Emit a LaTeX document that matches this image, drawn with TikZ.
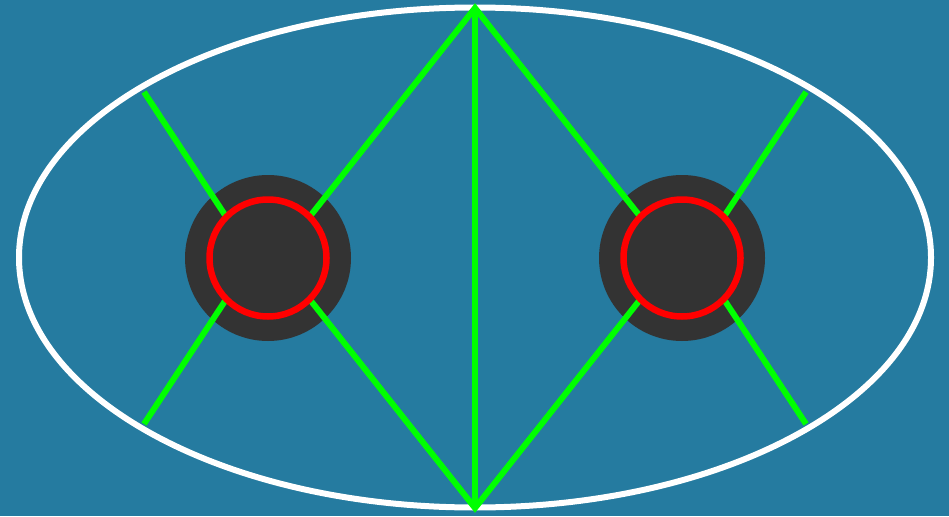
\documentclass[tikz,border=0pt]{standalone}
\begin{document}
\begin{tikzpicture}[x=1pt,y=-1pt,
  green line/.style={draw={rgb,255:red,0;green,255;blue,0}, line width=6pt, miter limit=20},
  hub/.style={fill={rgb,255:red,51;green,51;blue,51}},
  ring/.style={draw={rgb,255:red,255;green,0;blue,0}, line width=6.5pt}]
\definecolor{bg}{RGB}{37,123,160}
\fill[bg] (0,0) rectangle (949,516);
\useasboundingbox (0,0) rectangle (949,516);
\draw[white, line width=6pt] (475,257.5) ellipse [x radius=456, y radius=250];
% hubs
\coordinate (L) at (268,258);
\coordinate (R) at (682,258);
\fill[hub] (L) circle [radius=83];
\fill[hub] (R) circle [radius=83];
% key points
\coordinate (top) at (475,8);
\coordinate (bot) at (475,508);
\coordinate (Lui) at (311,215);
\coordinate (Lli) at (311,301);
\coordinate (Rui) at (639,215);
\coordinate (Rli) at (639,301);
\coordinate (Luo) at (225,215);
\coordinate (Llo) at (225,301);
\coordinate (Ruo) at (725,215);
\coordinate (Rlo) at (725,301);
\coordinate (Lus) at (144,92);
\coordinate (Lls) at (144,424);
\coordinate (Rus) at (806,92);
\coordinate (Rls) at (806,424);
\draw[green line] (Lui) -- (top) -- (Rui);
\draw[green line] (Lli) -- (bot) -- (Rli);
\draw[green line] (top) -- (bot);
\draw[green line] (Lus) -- (Luo);
\draw[green line] (Lls) -- (Llo);
\draw[green line] (Rus) -- (Ruo);
\draw[green line] (Rls) -- (Rlo);
\draw[ring] (L) circle [radius=58.5];
\draw[ring] (R) circle [radius=58.5];
\end{tikzpicture}
\end{document}
